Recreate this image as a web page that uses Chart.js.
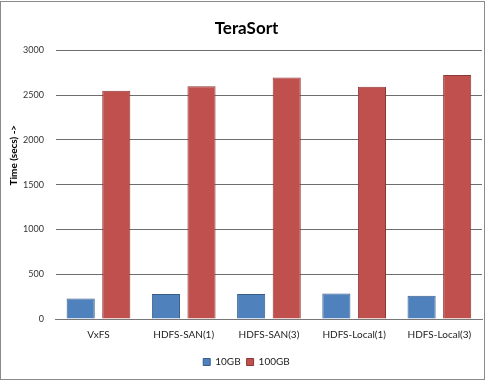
<!DOCTYPE html>
<html>
<head>
<meta charset="utf-8">
<script src="https://cdn.jsdelivr.net/npm/chart.js@4/dist/chart.umd.min.js"></script>
<style>
  html, body { margin: 0; padding: 0; background: #fff; }
  #wrap { position: absolute; left: 0; top: 1px; width: 483px; height: 377px; border: 1px solid #8a8a8a; background: #fff; }
  #chart { display: block; }
</style>
</head>
<body>
<div id="wrap"><canvas id="chart" width="483" height="377"></canvas></div>
<script>
// TeraSort — čas izvajanja po datotečnih sistemih

const categories = ['VxFS', 'HDFS-SAN(1)', 'HDFS-SAN(3)', 'HDFS-Local(1)', 'HDFS-Local(3)'];
const seriesNames = ['10GB', '100GB'];
const values10GB = [230, 278, 278, 285, 260];
const values100GB = [2548, 2600, 2697, 2593, 2725];
const yTicks = [0, 500, 1000, 1500, 2000, 2500, 3000];

const FONT = 'Lato, "Open Sans", sans-serif';

// Naslov y osi — v originalu ni centriran na os, zato ga rišemo sami
const yTitlePlugin = {
  id: 'yTitle',
  afterDraw(chart) {
    const { ctx, chartArea } = chart;
    const y = chartArea.top + (chartArea.bottom - chartArea.top) * 0.39;
    ctx.save();
    ctx.translate(13, y);
    ctx.rotate(-Math.PI / 2);
    ctx.font = `bold 10px ${FONT}`;
    ctx.fillStyle = '#000';
    ctx.textAlign = 'center';
    ctx.textBaseline = 'middle';
    ctx.fillText('Time (secs) ->', 0, 0);
    ctx.restore();
  },
};

const ctx = document.getElementById('chart').getContext('2d');
new Chart(ctx, {
  type: 'bar',
  plugins: [yTitlePlugin],
  data: {
    labels: categories,
    datasets: [
      {
        label: seriesNames[0],
        data: values10GB,
        backgroundColor: '#4f81bd',
        borderColor: '#385d8a',
        borderWidth: 1,
      },
      {
        label: seriesNames[1],
        data: values100GB,
        backgroundColor: '#c0504d',
        borderColor: '#8c3836',
        borderWidth: 1,
      },
    ],
  },
  options: {
    responsive: false,
    animation: false,
    categoryPercentage: 0.835,
    barPercentage: 0.79,
    layout: { padding: { left: 10, right: 2, top: 4, bottom: 2 } },
    plugins: {
      title: {
        display: true,
        text: 'TeraSort',
        color: '#000',
        font: { family: FONT, size: 17, weight: 'bold' },
        padding: { top: 12, bottom: 12 },
      },
      legend: {
        position: 'bottom',
        labels: {
          boxWidth: 7,
          boxHeight: 7,
          padding: 6,
          color: '#222',
          font: { family: FONT, size: 10 },
        },
      },
      tooltip: { enabled: false },
    },
    scales: {
      x: {
        grid: { display: false, drawTicks: false },
        border: { color: '#777', width: 1 },
        ticks: { color: '#222', font: { family: FONT, size: 10 }, padding: 10 },
      },
      y: {
        min: 0,
        max: 3000,
        afterBuildTicks: (axis) => { axis.ticks = yTicks.map((v) => ({ value: v })); },
        grid: { color: '#6e6e6e', lineWidth: 1, drawTicks: false },
        border: { display: false },
        ticks: {
          color: '#333',
          font: { family: FONT, size: 9 },
          padding: 12,
          callback: (v) => String(v),
        },
      },
    },
  },
});
</script>
</body>
</html>
